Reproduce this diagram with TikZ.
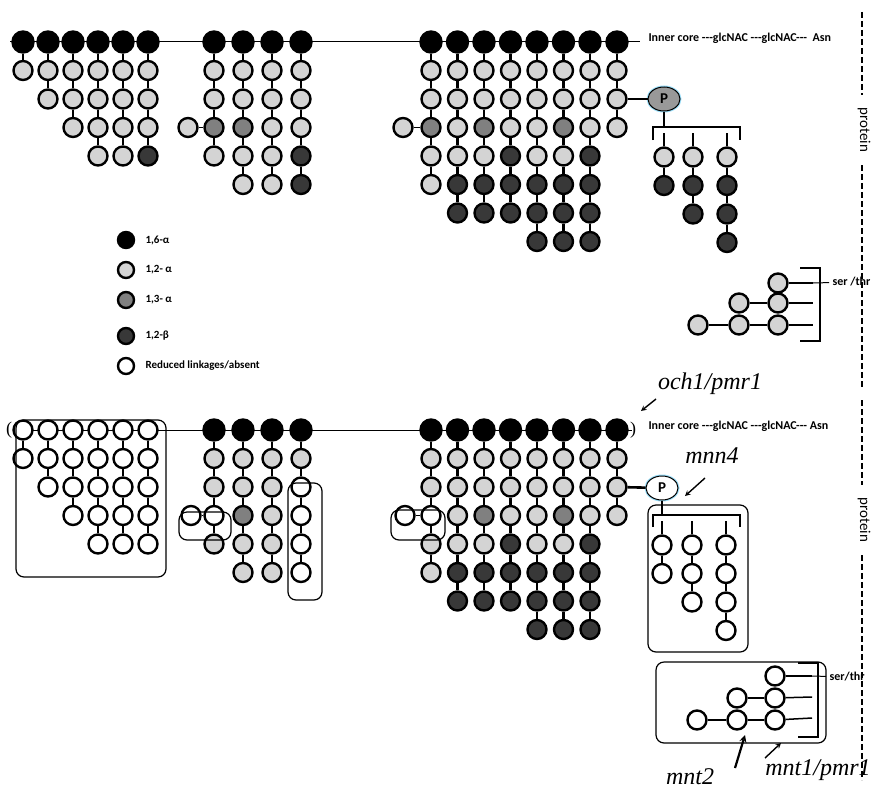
\documentclass[tikz,border=0pt]{standalone}
\usepackage{fontspec}
\setmainfont{Liberation Serif}
\newfontfamily\lab{Carlito}
\usetikzlibrary{shapes.geometric}
\tikzset{
 gl/.style={circle,draw=black,line width=2.4pt,minimum size=19pt,inner sep=0pt},
 B/.style={gl,fill=black,minimum size=21pt},
 L/.style={gl,fill=black!17},
 M/.style={gl,fill=black!50},
 D/.style={gl,fill=black!78},
 W/.style={gl,fill=white},
 link/.style={line width=2.6pt},
 thinlink/.style={line width=1pt},
 box/.style={draw,rounded corners=8pt,line width=1.2pt},
 brk/.style={line width=2.2pt},
 gene/.style={font=\itshape\fontsize{24}{24}\selectfont},
 core/.style={font=\lab\bfseries\fontsize{12}{12}\selectfont,anchor=west},
 pdash/.style={line width=2.5pt,dash pattern=on 6pt off 3pt},
 arr/.style={->,line width=1.4pt,>=stealth},
}
\newcommand\gchain[4]{%
 \foreach \s [count=\i] in {#4} {
   \pgfmathtruncatemacro\p{\i-1}
   \node[\s] (#1-\i) at (#2,#3+\i*28.5) {};
   \draw[link] (#1-\p) -- (#1-\i);
 }}
\begin{document}
\begin{tikzpicture}[x=1pt,y=-1pt]
\useasboundingbox (0,0) rectangle (890,800);
% ================= TOP =================
\draw[line width=1pt] (10,42) -- (640,42);
\foreach \x [count=\k] in {23,48,73,98,123,148} {\node[B] (ta\k-0) at (\x,42) {};}
\foreach \x [count=\k] in {214,243,272,301} {\node[B] (tb\k-0) at (\x,42) {};}
\foreach \x [count=\k] in {431,457.5,484,510.5,537,563.5,590,617} {\node[B] (tc\k-0) at (\x,42) {};}
\gchain{ta1}{23}{42}{L}
\gchain{ta2}{48}{42}{L,L}
\gchain{ta3}{73}{42}{L,L,L}
\gchain{ta4}{98}{42}{L,L,L,L}
\gchain{ta5}{123}{42}{L,L,L,L}
\gchain{ta6}{148}{42}{L,L,L,D}
\gchain{tb1}{214}{42}{L,L,M,L}
\gchain{tb2}{243}{42}{L,L,M,L,L}
\gchain{tb3}{272}{42}{L,L,L,L,L}
\gchain{tb4}{301}{42}{L,L,L,D,D}
\node[L] (tbs) at (188,42+3*28.5) {};
\draw[thinlink] (tbs) -- (tb1-3);
\gchain{tc1}{431}{42}{L,L,M,L,L}
\gchain{tc2}{457.5}{42}{L,L,L,L,D,D}
\gchain{tc3}{484}{42}{L,L,M,L,D,D}
\gchain{tc4}{510.5}{42}{L,L,L,D,D,D}
\gchain{tc5}{537}{42}{L,L,L,L,D,D,D}
\gchain{tc6}{563.5}{42}{L,L,M,L,D,D,D}
\gchain{tc7}{590}{42}{L,L,L,D,D,D,D}
\gchain{tc8}{617}{42}{L,L,L}
\node[L] (tcs) at (403,42+3*28.5) {};
\draw[thinlink] (tcs) -- (tc1-3);
\node[ellipse,draw=black,line width=1pt,fill=black!40,minimum width=32pt,minimum height=24pt,inner sep=0pt,
  preaction={draw=cyan!40,line width=3pt},font=\lab\bfseries\fontsize{15}{15}\selectfont] (tP) at (664,99) {P};
\draw[link] (tc8-2) -- (tP);
\coordinate (tbr) at (664,127);
\draw[link] (tP) -- (tbr);
\draw[brk] (653,140) -- (653,127) -- (740,127) -- (740,140);
\coordinate (td1-0) at (664,133); \coordinate (td2-0) at (693,133); \coordinate (td3-0) at (727,133);
\gchain{td1}{664}{128.5}{L,D}
\gchain{td2}{693}{128.5}{L,D,D}
\gchain{td3}{727}{128.5}{L,D,D,D}
\node[core] (tcore) at (645,38) {Inner core ---glcNAC ---glcNAC--- \ Asn};
\node[font=\lab\fontsize{15}{15}\selectfont,rotate=-90] (tprot) at (864,130) {protein};
\draw[pdash] (862,12) -- (862,95);
\draw[pdash] (862,165) -- (862,388);
% legend
\foreach \st/\t [count=\k] in {B/{1,6-α},L/{1,2- α},M/{1,3- α},D/{1,2-β},W/{Reduced linkages/absent}} {
  \pgfmathsetmacro\ly{{240,270,300,336,366}[\k-1]}
  \node[\st,minimum size=16pt] (lg\k) at (126,\ly) {};
  \node[anchor=west,font=\lab\bfseries\fontsize{11}{11}\selectfont] (lt\k) at (142,\ly) {\t};
}
% ser/thr top
\node[L] (ts1) at (698,325) {}; \node[L] (ts2) at (739,325) {}; \node[L] (ts3) at (739,303) {};
\node[L] (ts4) at (778,325) {}; \node[L] (ts5) at (778,303) {}; \node[L] (ts6) at (778,283) {};
\draw[link] (ts1) -- (ts2); \draw[link] (ts2) -- (ts4); \draw[link] (ts3) -- (ts5);
\coordinate (te4) at (813,325); \coordinate (te5) at (813,303); \coordinate (te6) at (813,283);
\draw[line width=1.5pt] (ts4) -- (te4); \draw[line width=1.5pt] (ts5) -- (te5); \draw[line width=1.5pt] (ts6) -- (te6);
\draw[brk] (800,268) -- (820,268) -- (820,341) -- (800,341);
\node[core] (tser) at (829,282) {ser /thr};
\draw[line width=1pt] (te6) -- (tser);
% ================= BOTTOM =================
\draw[line width=1pt] (14,430) -- (632,430);
\node[font=\fontsize{18}{18}\selectfont] (bpl) at (9,430) {(};
\node[font=\fontsize{18}{18}\selectfont] (bpr) at (633,430) {)};
\foreach \x [count=\k] in {23,48,73,98,123,148} {\node[W] (ba\k-0) at (\x,430) {};}
\foreach \x [count=\k] in {214,243,272,301} {\node[B] (bb\k-0) at (\x,430) {};}
\foreach \x [count=\k] in {431,457.5,484,510.5,537,563.5,590,617} {\node[B] (bc\k-0) at (\x,430) {};}
\gchain{ba1}{23}{430}{W}
\gchain{ba2}{48}{430}{W,W}
\gchain{ba3}{73}{430}{W,W,W}
\gchain{ba4}{98}{430}{W,W,W,W}
\gchain{ba5}{123}{430}{W,W,W,W}
\gchain{ba6}{148}{430}{W,W,W,W}
\draw[box] (16,420) rectangle (166,577);
\gchain{bb1}{214}{430}{L,L,W,L}
\gchain{bb2}{243}{430}{L,L,M,L,L}
\gchain{bb3}{272}{430}{L,L,L,L,L}
\gchain{bb4}{301}{430}{L,W,W,W,W}
\node[W] (bbs) at (191,430+3*28.5) {};
\draw[thinlink] (bbs) -- (bb1-3);
\draw[box] (179,512) rectangle (231,540);
\draw[box] (288,483) rectangle (322,600);
\gchain{bc1}{431}{430}{L,L,W,L,L}
\gchain{bc2}{457.5}{430}{L,L,L,L,D,D}
\gchain{bc3}{484}{430}{L,L,M,L,D,D}
\gchain{bc4}{510.5}{430}{L,L,L,D,D,D}
\gchain{bc5}{537}{430}{L,L,L,L,D,D,D}
\gchain{bc6}{563.5}{430}{L,L,M,L,D,D,D}
\gchain{bc7}{590}{430}{L,L,L,D,D,D,D}
\gchain{bc8}{617}{430}{L,L,L}
\node[W] (bcs) at (405,430+3*28.5) {};
\draw[thinlink] (bcs) -- (bc1-3);
\draw[box] (391,510) rectangle (445,540);
\node[ellipse,draw=black,line width=1pt,fill=white,minimum width=32pt,minimum height=24pt,inner sep=0pt,
  preaction={draw=cyan!40,line width=3pt},font=\lab\bfseries\fontsize{15}{15}\selectfont] (bP) at (662,488) {P};
\draw[link] (bc8-2) -- (bP);
\coordinate (bbr) at (662,515);
\draw[link] (bP) -- (bbr);
\draw[brk] (653,527) -- (653,515) -- (740,515) -- (740,527);
\coordinate (bd1-0) at (662,521); \coordinate (bd2-0) at (692,521); \coordinate (bd3-0) at (726,521);
\gchain{bd1}{662}{516.5}{W,W}
\gchain{bd2}{692}{516.5}{W,W,W}
\gchain{bd3}{726}{516.5}{W,W,W,W}
\draw[box] (648,505) rectangle (748,652);
\node[core] (bcore) at (645,426) {Inner core ---glcNAC ---glcNAC--- Asn};
\node[font=\lab\fontsize{15}{15}\selectfont,rotate=-90] (bprot) at (864,520) {protein};
\draw[pdash] (862,400) -- (862,485);
\draw[pdash] (862,555) -- (862,780);
% ser/thr bottom
\node[W] (bs1) at (697,720) {}; \node[W] (bs2) at (737,720) {}; \node[W] (bs3) at (737,698) {};
\node[W] (bs4) at (775,720) {}; \node[W] (bs5) at (775,698) {}; \node[W] (bs6) at (775,676) {};
\draw[link] (bs1) -- (bs2); \draw[link] (bs2) -- (bs4); \draw[link] (bs3) -- (bs5);
\coordinate (be4) at (812,718); \coordinate (be5) at (812,697); \coordinate (be6) at (812,676);
\draw[line width=1.5pt] (bs4) -- (be4); \draw[line width=1.5pt] (bs5) -- (be5); \draw[line width=1.5pt] (bs6) -- (be6);
\draw[brk] (798,663) -- (818,663) -- (818,737) -- (798,737);
\node[core] (bser) at (826,677) {ser/thr};
\draw[line width=1pt] (be6) -- (bser);
\draw[box] (656,662) rectangle (826,743);
% gene labels
\node[gene] (g1) at (710,384) {och1/pmr1};
\coordinate (g1t) at (641,411);
\draw[arr] (656,399) -- (g1t);
\node[gene] (g2) at (712,456) {mnn4};
\coordinate (g2t) at (685,496);
\draw[arr] (705,478) -- (g2t);
\node[gene] (g3) at (690,777) {mnt2};
\coordinate (g3t) at (745,735);
\draw[->,line width=2.2pt,>=stealth] (735,768) -- (g3t);
\node[gene] (g4) at (818,770) {mnt1/pmr1};
\coordinate (g4t) at (781,743);
\draw[arr] (765,758) -- (g4t);
\end{tikzpicture}
\end{document}
